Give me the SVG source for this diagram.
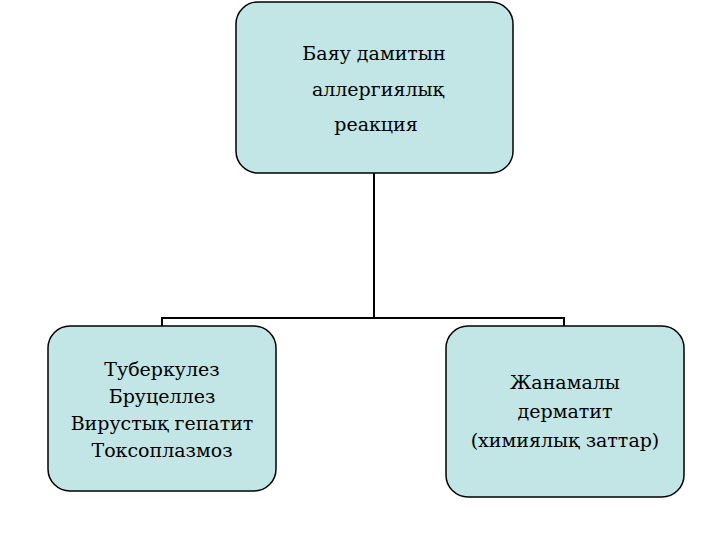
<svg xmlns="http://www.w3.org/2000/svg" width="720" height="540" viewBox="0 0 720 540">
<style>
.box{fill:#c2e5e5;stroke:#000;stroke-width:1.5}
.t{font-family:'DejaVu Serif',serif;font-size:19px;text-anchor:middle;fill:#000}
.c{stroke:#000;stroke-width:2;fill:none}
</style>
<rect width="720" height="540" fill="#fff"/>
<g id="connectors">
<path class="c" d="M374 173V318M162 326V318H564V326"/>
</g>
<g id="top">
<rect class="box" x="236" y="2" width="277" height="171" rx="22"/>
<text class="t" x="374" y="60">Баяу дамитын</text>
<text class="t" x="378" y="96">аллергиялық</text>
<text class="t" x="376" y="131">реакция</text>
</g>
<g id="left">
<rect class="box" x="48" y="326" width="228" height="165" rx="22"/>
<text class="t" x="162" y="376">Туберкулез</text>
<text class="t" x="162" y="403">Бруцеллез</text>
<text class="t" x="162" y="430">Вирустық гепатит</text>
<text class="t" x="162" y="457">Токсоплазмоз</text>
</g>
<g id="right">
<rect class="box" x="446" y="326" width="238" height="171" rx="22"/>
<text class="t" x="565" y="389">Жанамалы</text>
<text class="t" x="565" y="418">дерматит</text>
<text class="t" x="565" y="447">(химиялық заттар)</text>
</g>
</svg>
